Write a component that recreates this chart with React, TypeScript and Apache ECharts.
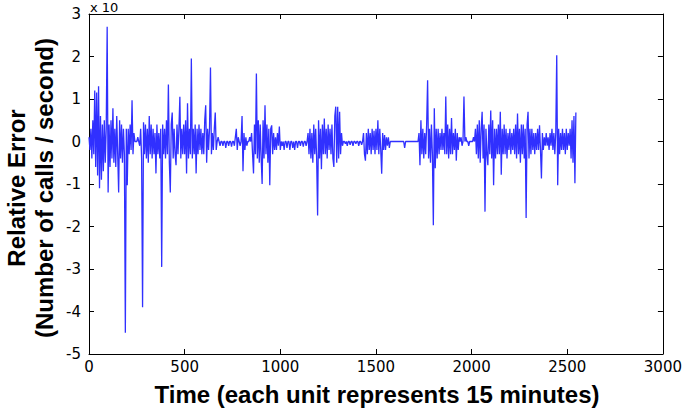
import React, { useEffect, useRef } from "react";
import * as echarts from "echarts";

// Sampling step of the time axis (units of 15 minutes)
const STEP = 5;
// Relative error values (axis units, x 10^-n), one per STEP starting at t = 0
const errorValues: number[] = [
  // 0-95
  0.1, -0.2, 0.3, -0.4, 0.5, -0.3, 1.2, -0.6, 1.15, -0.8, 1.3, -1.1, 0.6, -0.9, 0.4, -0.7, 0.5, -0.5, 0.3, 2.7,
  // 100-195
  -1.2, 0.4, -0.6, 0.5, -0.4, 0.78, -0.5, 0.3, -0.6, 0.6, -0.3, -1.2, 0.5, -0.4, 0.4, -0.5, 0.3, -0.3, -4.5, 0.3,
  // 200-295
  -1.03, 0.3, -0.3, 0.4, -0.2, 0.97, -0.3, 0.2, 0, 0, 0, 0.1, 0, -0.1, 0.3, -0.4, -3.9, 0.45, -0.3, 0.4,
  // 300-395
  -0.4, 0.3, -0.5, 0.6, -0.3, 0.4, -0.4, 0.3, -0.3, 0.2, -0.75, 0.4, -0.3, 0.2, -0.4, 0.3, -2.95, 0.4, -0.3, 0.3,
  // 400-495
  -0.4, 0.5, -0.3, 1.34, -0.5, -1.2, 0.4, 0.68, -0.4, 0.3, -0.3, -0.56, 0.4, -0.3, 0.3, 1.05, -0.4, 0.3, -0.3, 0.4,
  // 500-595
  -0.3, 0.5, -0.75, 0.9, -0.4, 0.3, -0.3, 1.95, -0.4, 0.3, -0.3, 0.4, -0.75, 0.3, -0.3, 0.4, -0.2, 0.3, -0.3, 0.2,
  // 600-695
  -0.3, 0.5, 0.85, -0.5, 0.3, -0.2, 0.3, 1.74, -0.3, 0.2, -0.2, 0.3, 0.68, -0.2, 0, 0.1, 0, -0.1, 0, 0,
  // 700-795
  -0.1, 0, 0, -0.15, 0, 0, -0.1, 0, 0, -0.12, 0, 0, -0.1, 0.1, 0.3, -0.2, 0.1, 0, -0.1, 0,
  // 800-895
  0.6, -0.7, 0.2, -0.2, 0.1, -0.1, 0, 0, 0.1, 0, 0.2, -0.3, -0.75, 0.4, -0.3, 1.6, -0.4, 0.5, -0.5, 0.4,
  // 900-995
  -0.4, -1.0, 0.5, -0.4, 0.85, -0.3, 0.4, -0.5, 0.3, -1.03, 0.3, 0.38, -0.3, 0.2, -0.2, 0.1, -0.2, 0.2, -0.1, 0.35,
  // 1000-1095
  -0.2, 0, -0.1, 0, -0.2, 0, 0, -0.15, 0, 0, -0.2, 0, 0, -0.15, 0, -0.2, 0, 0, -0.15, 0,
  // 1100-1195
  0, -0.1, 0, 0, -0.12, 0, 0, -0.1, 0, 0.2, -0.3, 0.3, -0.4, 0.2, -0.5, 0.4, -0.3, 0.3, -0.4, -1.74,
  // 1200-1295
  0.5, -0.4, 0.3, -0.65, 0.4, -0.3, 0.54, -0.3, 0.3, -0.4, 0.4, -0.2, 0.3, -0.3, 0.4, -0.4, -0.6, 0.6, 0.82, -0.5,
  // 1300-1395
  0.82, -0.4, 0.7, -0.3, 0.2, -0.1, 0, 0, -0.05, 0, -0.1, 0, 0, -0.08, 0, 0, -0.1, 0, 0, -0.05,
  // 1400-1495
  0, 0, -0.1, 0, 0, -0.08, 0, 0.2, -0.3, -0.45, 0.2, -0.3, 0.3, -0.2, 0.2, -0.3, 0.3, -0.2, 0.25, -0.3,
  // 1500-1595
  0.3, -0.2, 0.5, -0.3, 0.3, -0.2, -0.76, 0.2, -0.2, 0.15, -0.2, 0.1, -0.1, 0.1, -0.15, 0, 0, 0, 0, 0,
  // 1600-1695
  0, 0, 0, 0, 0, 0, 0, 0, 0, 0, -0.15, 0, 0, 0, 0, 0, 0, 0, 0, 0,
  // 1700-1795
  0, 0, 0, 0, 0, 0.2, -0.56, 0.5, -0.3, 0.3, -0.4, 0.2, -0.3, 0.4, 1.44, -0.4, 0.3, -0.5, 0.4, -0.3,
  // 1800-1895
  -1.97, 0.78, -0.63, 0.3, -0.4, 0.3, -0.3, 0.2, -0.2, 0.3, -0.2, 0.2, -0.3, 1.06, -0.3, 0.4, -0.4, 0.3, -0.3, 0.55,
  // 1900-1995
  -0.3, 0.2, -0.2, 0.3, -0.45, 0.2, -0.2, 0.1, 0, 0.1, -0.1, 0, 1.06, 0, 0.1, 0, 0, -0.1, 0, 0,
  // 2000-2095
  0, 0, 0.1, 0, 0.3, -0.3, 0.4, -0.4, 0.5, -0.5, 0.3, 0.7, -0.4, 0.4, -1.65, 0.3, -0.3, -0.56, 0.4, -0.3,
  // 2100-2195
  0.73, -0.4, 0.5, -1.03, 0.3, -0.4, 0.3, -0.3, 0.4, -0.3, 0.7, -0.78, 0.3, -0.3, 0.4, -0.3, 0.3, -0.4, 0.2, -0.2,
  // 2200-2295
  0.3, -0.3, 0.2, -0.2, 0.3, -0.3, 0.4, -0.4, 0.66, -0.3, 0.3, -0.5, 0.4, -0.3, 0.4, -0.4, 0.3, -1.8, 0.4, 0.7,
  // 2300-2395
  -0.4, 0.3, -0.3, 0.3, -0.2, 0.2, -0.3, 0.2, -0.2, 0.3, -0.2, 0.38, -0.2, -0.87, 0.2, -0.2, 0.1, -0.1, 0.2, -0.1,
  // 2400-2495
  0.1, -0.2, 0.2, -0.1, 0.3, -0.2, 0.2, -0.3, 0.2, 2.03, -1.03, 0.3, -0.3, 0.2, -0.2, 0.3, -0.2, 0.2, -0.3, 0.3,
  // 2500-2545
  -0.2, 0.2, -0.1, 0.3, -0.4, 0.5, -0.5, 0.6, -0.98, 0.68,
];

const xTicks = { min: 0, max: 3000, interval: 500 };
const yTicks = { min: -5, max: 3, interval: 1 };

const xTitle = "Time (each unit represents 15 minutes)";
const yTitleLine1 = "Relative Error";
const yTitleLine2 = "(Number of calls / second)";
const exponentLabel = "x 10";

export default function App() {
  const ref = useRef<HTMLDivElement>(null);
  useEffect(() => {
    if (!ref.current) return;
    const chart = echarts.init(ref.current, undefined, { renderer: "svg" });
    const seriesData = errorValues.map((v, i) => [i * STEP, v]);
    const font = "'Liberation Sans', Arial, Helvetica, sans-serif";
    const tickFont = "'DejaVu Sans', sans-serif";
    const commonX = {
      type: "value" as const,
      min: xTicks.min,
      max: xTicks.max,
      interval: xTicks.interval,
      splitLine: { show: false },
      axisLine: { show: true, onZero: false, lineStyle: { color: "#000", width: 1 } },
      axisTick: { show: true, inside: true, length: 5, lineStyle: { color: "#000" } },
    };
    const commonY = {
      type: "value" as const,
      min: yTicks.min,
      max: yTicks.max,
      interval: yTicks.interval,
      splitLine: { show: false },
      axisLine: { show: true, onZero: false, lineStyle: { color: "#000", width: 1 } },
      axisTick: { show: true, inside: true, length: 5, lineStyle: { color: "#000" } },
    };
    chart.setOption({
      animation: false,
      backgroundColor: "#fff",
      grid: { left: 89, right: 19, top: 14, bottom: 57, containLabel: false },
      xAxis: [
        {
          ...commonX,
          position: "bottom",
          axisLabel: {
            show: true,
            color: "#000",
            fontSize: 15,
            fontFamily: tickFont,
            margin: 5,
            formatter: (v: number) => String(v),
          },
        },
        { ...commonX, position: "top", axisLabel: { show: false } },
      ],
      yAxis: [
        {
          ...commonY,
          position: "left",
          axisLabel: {
            show: true,
            color: "#000",
            fontSize: 15,
            fontFamily: tickFont,
            margin: 8,
            formatter: (v: number) => String(v),
          },
        },
        { ...commonY, position: "right", axisLabel: { show: false } },
      ],
      series: [
        {
          type: "line",
          xAxisIndex: 0,
          yAxisIndex: 0,
          data: seriesData,
          showSymbol: false,
          symbol: "none",
          lineStyle: { color: "#3030ff", width: 1.3 },
          clip: true,
        },
      ],
      graphic: [
        {
          type: "text",
          x: 377,
          y: 394,
          style: {
            text: xTitle,
            font: `bold 24px ${font}`,
            fill: "#000",
            align: "center",
            verticalAlign: "middle",
          },
        },
        {
          type: "text",
          x: 16,
          y: 188,
          rotation: Math.PI / 2,
          style: {
            text: yTitleLine1,
            font: `bold 24px ${font}`,
            fill: "#000",
            align: "center",
            verticalAlign: "middle",
          },
        },
        {
          type: "text",
          x: 44,
          y: 188,
          rotation: Math.PI / 2,
          style: {
            text: yTitleLine2,
            font: `bold 24px ${font}`,
            fill: "#000",
            align: "center",
            verticalAlign: "middle",
          },
        },
        {
          type: "text",
          x: 90,
          y: 7,
          style: {
            text: exponentLabel,
            font: `13px ${tickFont}`,
            fill: "#000",
            align: "left",
            verticalAlign: "middle",
          },
        },
      ],
    });
    return () => chart.dispose();
  }, []);
  return (
    <div
      ref={ref}
      style={{ position: "fixed", left: 0, top: 0, width: 685, height: 411 }}
    />
  );
}
